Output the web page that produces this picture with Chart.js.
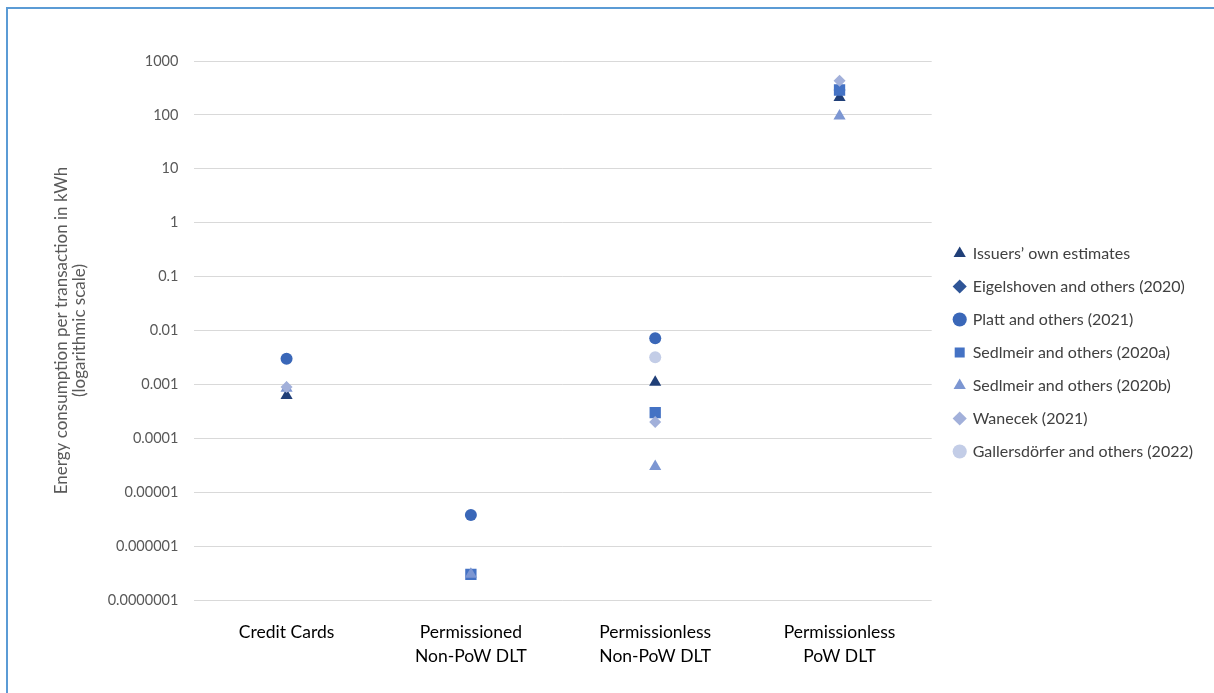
<!DOCTYPE html>
<html>
<head>
<meta charset="utf-8">
<script src="https://cdn.jsdelivr.net/npm/chart.js@4"></script>
<style>
  html, body { margin: 0; padding: 0; background: #fff; }
  #wrap { position: relative; width: 1214px; height: 693px; overflow: hidden; }
  #frame {
    position: absolute; left: 6px; top: 7px; width: 1300px; height: 800px;
    border-left: 2px solid #5b9bd5; border-top: 2px solid #5b9bd5;
  }
  canvas { position: absolute; left: 0; top: 0; }
</style>
</head>
<body>
<div id="wrap">
  <div id="frame"></div>
  <canvas id="myChart" width="1214" height="693"></canvas>
</div>
<script>
const categories = [
  "Credit Cards",
  ["Permissioned", "Non-PoW DLT"],
  ["Permissionless", "Non-PoW DLT"],
  ["Permissionless", "PoW DLT"],
];

// kWh per transaction, one value per category (null = no estimate)
const issuers = [0.00062, null, 0.0011, 210];
const eigelshoven = [null, null, null, 290];
const platt = [0.003, 0.0000038, 0.0072, null];
const sedlmeirA = [null, 0.0000003, 0.0003, 290];
const sedlmeirB = [0.00085, 0.0000003, 0.00003, 95];
const wanecek = [0.0009, null, 0.0002, 430];
const gallersdorfer = [null, null, 0.0032, null];

const yTicks = [0.0000001, 0.000001, 0.00001, 0.0001, 0.001, 0.01, 0.1, 1, 10, 100, 1000];
const yTickLabels = ["0.0000001", "0.000001", "0.00001", "0.0001", "0.001", "0.01", "0.1", "1", "10", "100", "1000"];

const font = "Lato, 'Open Sans', sans-serif";

function series(label, data, color, style, radius, order) {
  return {
    label,
    data,
    order,
    showLine: false,
    pointStyle: style,
    pointRadius: radius,
    pointHoverRadius: radius,
    pointBackgroundColor: color,
    pointBorderColor: color,
    pointBorderWidth: 0,
    backgroundColor: color,
    borderColor: color,
  };
}

const data = {
  labels: categories,
  datasets: [
    series("Issuers\u2019 own estimates", issuers, "#203f78", "triangle", 7, 7),
    series("Eigelshoven and others (2020)", eigelshoven, "#2f5597", "rectRot", 6, 6),
    series("Platt and others (2021)", platt, "#3a67b8", "circle", 6, 5),
    series("Sedlmeir and others (2020a)", sedlmeirA, "#4472c4", "rect", 8, 4),
    series("Sedlmeir and others (2020b)", sedlmeirB, "#7c96d2", "triangle", 7, 3),
    series("Wanecek (2021)", wanecek, "#a2b0da", "rectRot", 6, 2),
    series("Gallersd\u00f6rfer and others (2022)", gallersdorfer, "#c3cde7", "circle", 6, 1),
  ],
};

// nudge the legend so it sits where the original one does
const legendShift = {
  id: "legendShift",
  afterLayout(chart) {
    chart.legend.top -= 22;
    chart.legend.bottom -= 22;
    chart.legend.left += 6;
    chart.legend.right += 6;
  },
};

const config = {
  type: "line",
  data: data,
  plugins: [legendShift],
  options: {
    responsive: false,
    animation: false,
    layout: { padding: { left: 49, top: 61, right: 17, bottom: 5 } },
    plugins: {
      tooltip: { enabled: false },
      legend: {
        position: "right",
        align: "center",
        labels: {
          usePointStyle: true,
          boxWidth: 10,
          boxHeight: 10,
          padding: 17,
          color: "#404040",
          font: { family: font, size: 16 },
          sort: (a, b) => a.datasetIndex - b.datasetIndex,
        },
      },
    },
    scales: {
      x: {
        offset: true,
        grid: { display: false, drawTicks: false },
        border: { display: false },
        ticks: {
          color: "#000",
          padding: 20,
          maxRotation: 0,
          font: { family: font, size: 17.5, lineHeight: 1.37 },
        },
      },
      y: {
        type: "logarithmic",
        min: 0.0000001,
        max: 1000,
        afterBuildTicks: (axis) => {
          axis.ticks = yTicks.map((v) => ({ value: v }));
        },
        grid: { color: "#d9d9d9", lineWidth: 1, drawTicks: false },
        border: { display: false },
        ticks: {
          color: "#595959",
          padding: 16,
          font: { family: font, size: 14.5 },
          callback: (value) => yTickLabels[yTicks.indexOf(value)] ?? "",
        },
        title: {
          display: true,
          text: ["Energy consumption per transaction in kWh", "(logarithmic scale)"],
          color: "#595959",
          font: { family: font, size: 17, lineHeight: 1.05 },
          padding: { bottom: 3 },
        },
      },
    },
  },
};

const myChart = new Chart(document.getElementById("myChart").getContext("2d"), config);
</script>
</body>
</html>
